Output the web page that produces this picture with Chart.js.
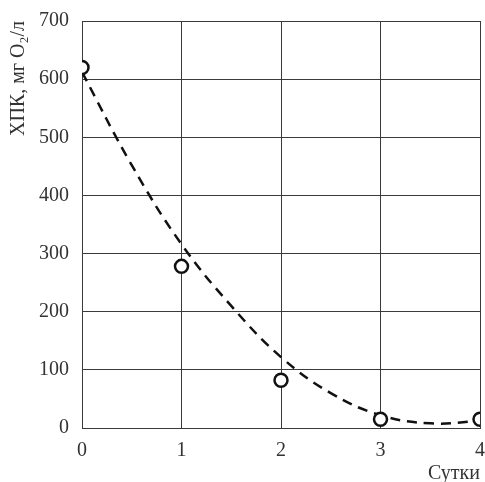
<!DOCTYPE html>
<html>
<head>
<meta charset="utf-8">
<script src="https://cdn.jsdelivr.net/npm/chart.js@4"></script>
<style>
  html, body { margin: 0; padding: 0; background: #fff; overflow: hidden; }
  /* a little wider than the window so the last tick label's padding falls off-screen */
  #wrap { width: 489px; height: 482px; }
</style>
</head>
<body>
<div id="wrap"><canvas id="chart"></canvas></div>
<script>
// measured points (days vs COD)
const days = [0, 1, 2, 3, 4];
const cod = [620, 278, 82, 15, 15];

// dashed trend curve
const trendDays = [0, 0.5, 1, 1.5, 2, 2.5, 3, 3.5, 4];
const trendCod = [612, 452, 316, 210, 122, 60, 22, 8, 12];

const yTicks = [0, 100, 200, 300, 400, 500, 600, 700];
const xTicks = [0, 1, 2, 3, 4];

const font = { family: '"Liberation Serif", "Times New Roman", serif', size: 20 };
const gridColor = '#3a3a3a';

const ctx = document.getElementById('chart').getContext('2d');

new Chart(ctx, {
  type: 'scatter',
  data: {
    datasets: [
      {
        data: days.map((d, i) => ({ x: d, y: cod[i] })),
        pointRadius: 6.5,
        pointBorderWidth: 2.5,
        pointBorderColor: '#111',
        pointBackgroundColor: '#fff',
        showLine: false,
        order: 1
      },
      {
        data: trendDays.map((d, i) => ({ x: d, y: trendCod[i] })),
        showLine: true,
        pointRadius: 0,
        borderColor: '#111',
        borderWidth: 2.5,
        borderDash: [10, 7],
        tension: 0.4,
        order: 2
      }
    ]
  },
  options: {
    responsive: true,
    maintainAspectRatio: false,
    animation: false,
    layout: { padding: { top: 21, right: 0, left: 0, bottom: 0 } },
    plugins: {
      legend: { display: false },
      tooltip: { enabled: false }
    },
    scales: {
      x: {
        type: 'linear',
        min: 0,
        max: 4,
        afterBuildTicks: (s) => { s.ticks = xTicks.map(v => ({ value: v })); },
        afterFit: (s) => {
          s.height = 54;
          s.paddingLeft = 0;
          s.paddingRight = 0;
        },
        grid: { color: gridColor, lineWidth: 1, drawTicks: false },
        border: { color: gridColor, width: 1 },
        ticks: { font: font, color: '#333', padding: 11, maxRotation: 0 },
        title: {
          display: true,
          text: 'Сутки',
          align: 'end',
          font: font,
          color: '#333',
          padding: { top: 0, bottom: -4 }
        }
      },
      y: {
        min: 0,
        max: 700,
        afterBuildTicks: (s) => { s.ticks = yTicks.map(v => ({ value: v })); },
        afterFit: (s) => {
          s.width = 82;
          s.paddingTop = 0;
          s.paddingBottom = 0;
        },
        grid: { color: gridColor, lineWidth: 1, drawTicks: false },
        border: { color: gridColor, width: 1 },
        ticks: { font: font, color: '#333', padding: 13 },
        title: {
          display: true,
          text: 'ХПК, мг O₂/л',
          align: 'end',
          font: font,
          color: '#333',
          padding: { top: 7, bottom: 0 }
        }
      }
    }
  }
});
</script>
</body>
</html>
